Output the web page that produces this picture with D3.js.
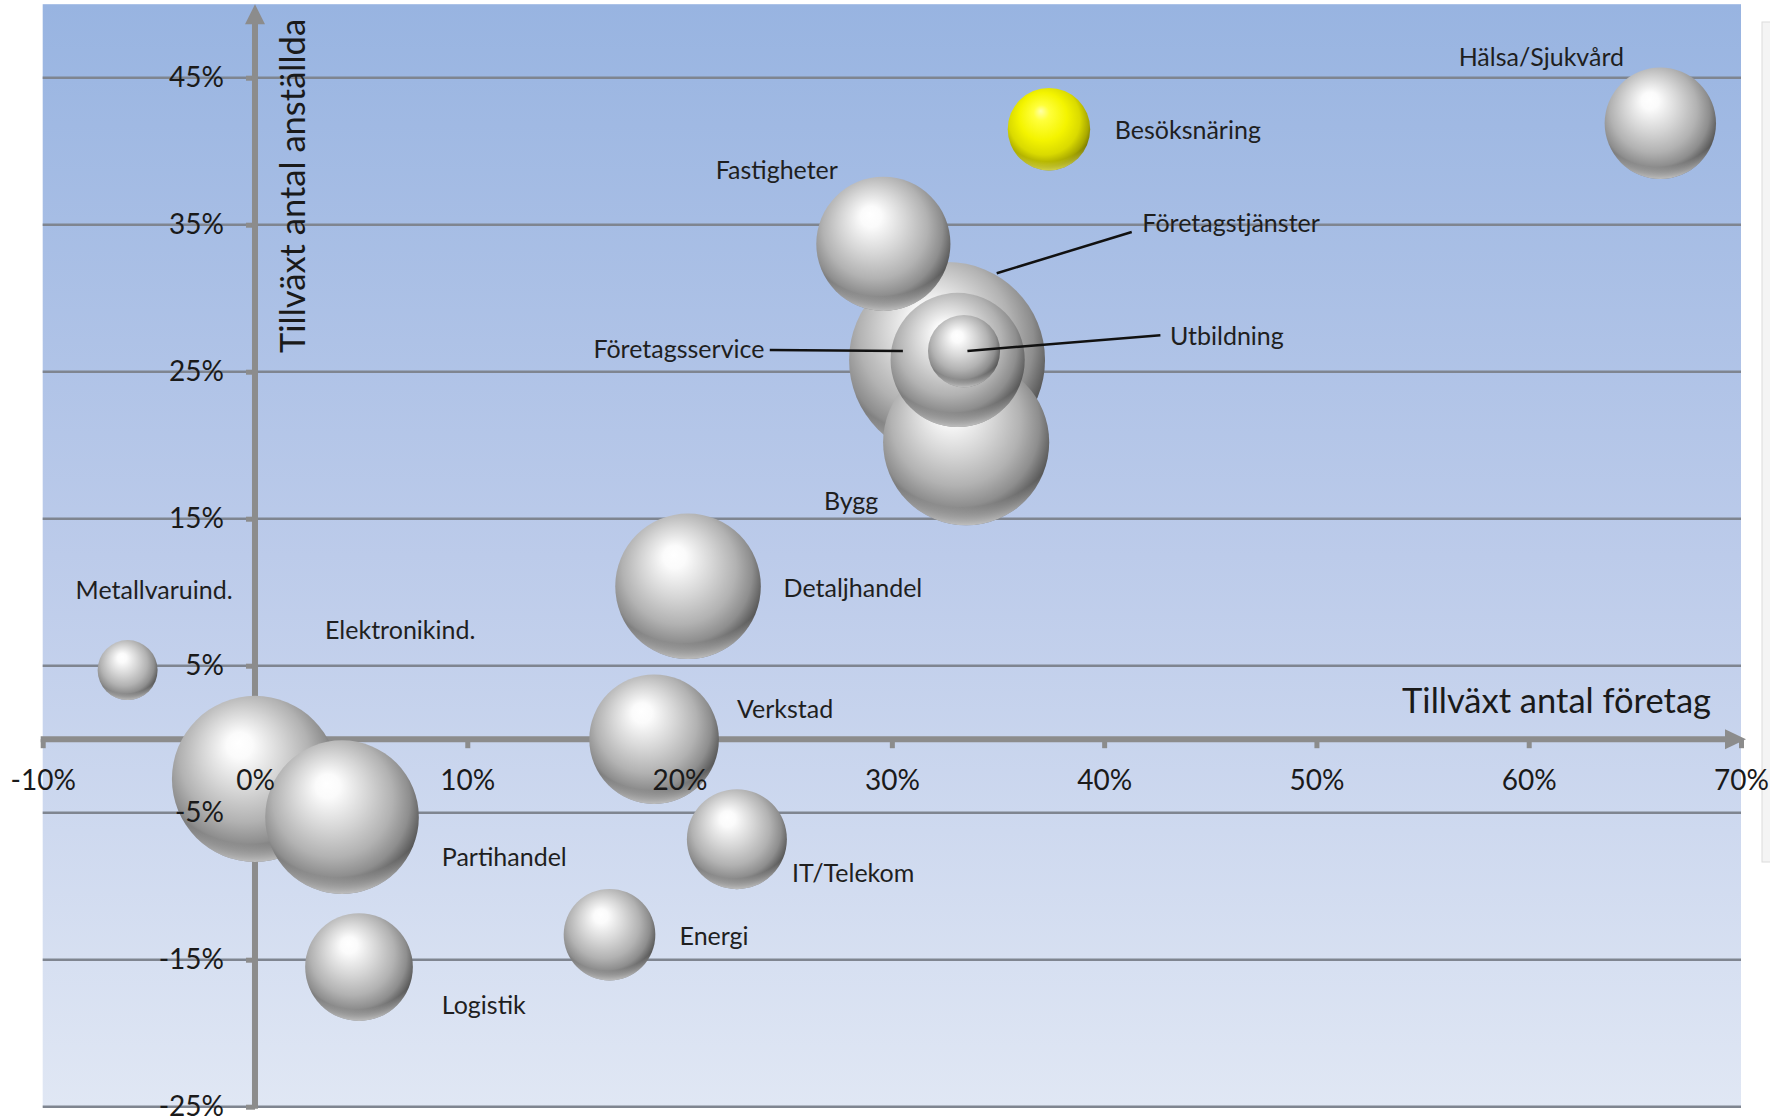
<!DOCTYPE html>
<html>
<head>
<meta charset="utf-8">
<script src="https://cdn.jsdelivr.net/npm/d3@7"></script>
<style>
  html, body { margin: 0; padding: 0; background: #ffffff; }
  svg { display: block; }
  text { font-family: Lato, "Open Sans", sans-serif; }
</style>
</head>
<body>
<svg id="chart" width="1770" height="1118"></svg>
<script>
// ---------- data ----------
const sectors = ["Hälsa/Sjukvård", "Besöksnäring", "Fastigheter", "Företagstjänster", "Företagsservice",
  "Utbildning", "Bygg", "Detaljhandel", "Verkstad", "Metallvaruind.", "Elektronikind.",
  "Partihandel", "IT/Telekom", "Energi", "Logistik"];
// growth in number of companies (%)
const growthCompanies = [66.2, 37.4, 29.6, 32.6, 33.1, 33.4, 33.5, 20.4, 18.8, -6.0, 0.0, 4.1, 22.7, 16.7, 4.9];
// growth in number of employees (%)
const growthEmployees = [41.9, 41.5, 33.7, 25.8, 25.8, 26.4, 20.2, 10.4, 0.0, 4.7, -2.7, -5.3, -6.8, -13.3, -15.5];
// bubble size (relative)
const bubbleSize = [31, 17, 45, 96, 45, 13, 69, 53, 42, 9, 69, 59, 25, 21, 29];
const highlighted = ["Besöksnäring"];

// data-label anchors (in axis units)
const labelX = [56.7, 40.5, 21.7, 41.8, 24.0, 43.1, 26.8, 24.9, 22.7, -8.45, 3.3, 8.8, 25.3, 20.0, 8.8];
const labelY = [46.4, 41.4, 38.7, 35.1, 26.5, 27.4, 16.2, 10.3, 2.05, 10.1, 7.4, -8.0, -9.1, -13.4, -18.1];
const labelAnchor = ["start","start","start","start","end","start","start","start","start","start","start","start","start","start","start"];
// leader lines [sector, x1, y1, x2, y2] in axis units
const leaders = [
  ["Företagstjänster", 34.94, 31.7, 41.3, 34.5],
  ["Utbildning", 33.56, 26.41, 42.65, 27.48],
  ["Företagsservice", 24.25, 26.48, 30.52, 26.41]
];

const xTicks = [-10, 0, 10, 20, 30, 40, 50, 60, 70];
const yTicks = [-25, -15, -5, 5, 15, 25, 35, 45];
const xTitle = "Tillväxt antal företag";
const yTitle = "Tillväxt antal anställda";

// ---------- scales ----------
const svg = d3.select("#chart");
const x = d3.scaleLinear().domain([-10, 70]).range([42.7, 1741]);
const y = d3.scaleLinear().domain([-25, 50]).range([1106.7, 4.2]);
const r = d3.scaleSqrt().domain([0, 100]).range([0, 100]);

const defs = svg.append("defs");
const bg = defs.append("linearGradient").attr("id", "bg").attr("x1", 0).attr("y1", 0).attr("x2", 0).attr("y2", 1);
bg.append("stop").attr("offset", "0%").attr("stop-color", "#98b4e1");
bg.append("stop").attr("offset", "50%").attr("stop-color", "#bccbea");
bg.append("stop").attr("offset", "100%").attr("stop-color", "#e0e7f4");

function sphereGrad(id, stops) {
  const g = defs.append("radialGradient").attr("id", id)
    .attr("cx", "46%").attr("cy", "42%").attr("r", "60%")
    .attr("fx", "40%").attr("fy", "28%");
  stops.forEach(s => g.append("stop").attr("offset", s[0]).attr("stop-color", s[1]));
}
sphereGrad("silver", [["0%", "#ffffff"], ["13%", "#fbfbfb"], ["40%", "#d6d6d6"], ["65%", "#b2b2b2"], ["82%", "#8e8e8e"], ["100%", "#454545"]]);
sphereGrad("yellow", [["0%", "#ffffa8"], ["16%", "#ffff3a"], ["48%", "#f4f400"], ["72%", "#dada00"], ["88%", "#a8a800"], ["100%", "#666600"]]);
// bottom rim reflection
function rimGrad(id, color, op) {
  const g = defs.append("radialGradient").attr("id", id)
    .attr("cx", "48%").attr("cy", "22%").attr("r", "80%");
  g.append("stop").attr("offset", "0%").attr("stop-color", color).attr("stop-opacity", 0);
  g.append("stop").attr("offset", "84%").attr("stop-color", color).attr("stop-opacity", 0);
  g.append("stop").attr("offset", "100%").attr("stop-color", color).attr("stop-opacity", op);
}
rimGrad("rimSilver", "#ffffff", 0.75);
rimGrad("rimYellow", "#ffff66", 0.8);

// ---------- background ----------
svg.append("rect")
  .attr("x", x(-10)).attr("y", y(50))
  .attr("width", x(70) - x(-10)).attr("height", y(-25) - y(50))
  .attr("fill", "url(#bg)");
svg.append("rect").attr("x", 1762).attr("y", 22).attr("width", 10).attr("height", 840)
  .attr("fill", "#f4f4f4").attr("stroke", "#dcdcdc").attr("stroke-width", 1);

// gridlines
svg.append("g").selectAll("line").data(yTicks).join("line")
  .attr("x1", x(-10)).attr("x2", x(70))
  .attr("y1", d => y(d)).attr("y2", d => y(d))
  .attr("stroke", "#7f8590").attr("stroke-width", 2.5);

// axes (lines + ticks)
const axisColor = "#8c8c8c";
const yAxisLines = svg.append("g").attr("transform", `translate(${x(0)},0)`)
  .call(d3.axisLeft(y).tickValues(yTicks).tickSize(9).tickSizeOuter(0).tickFormat(""));
yAxisLines.select(".domain").remove();
yAxisLines.selectAll(".tick line").attr("stroke", axisColor).attr("stroke-width", 5);
const xAxisLines = svg.append("g").attr("transform", `translate(0,${y(0)})`)
  .call(d3.axisBottom(x).tickValues(xTicks).tickSize(9).tickSizeOuter(0).tickFormat(""));
xAxisLines.select(".domain").remove();
xAxisLines.selectAll(".tick line").attr("stroke", axisColor).attr("stroke-width", 5);

svg.append("line").attr("x1", x(0)).attr("x2", x(0)).attr("y1", y(-25) + 2).attr("y2", y(50) + 14)
  .attr("stroke", axisColor).attr("stroke-width", 6);
svg.append("path")
  .attr("d", `M${x(0)},${y(50)} L${x(0) - 10},${y(50) + 20} L${x(0) + 10},${y(50) + 20} Z`)
  .attr("fill", axisColor);
svg.append("line").attr("x1", x(-10) - 2).attr("x2", x(70) - 14).attr("y1", y(0)).attr("y2", y(0))
  .attr("stroke", axisColor).attr("stroke-width", 6);
svg.append("path")
  .attr("d", `M${x(70) + 5},${y(0)} L${x(70) - 16},${y(0) - 10} L${x(70) - 16},${y(0) + 10} Z`)
  .attr("fill", axisColor);

// ---------- bubbles ----------
const data = sectors.map((s, i) => ({
  name: s, gx: growthCompanies[i], gy: growthEmployees[i], size: bubbleSize[i],
  lx: labelX[i], ly: labelY[i], anchor: labelAnchor[i]
}));
const order = data.slice().sort((a, b) => b.size - a.size);
const bub = svg.append("g").selectAll("g").data(order).join("g")
  .attr("transform", d => `translate(${x(d.gx)},${y(d.gy)})`);
bub.append("circle").attr("r", d => r(d.size))
  .attr("fill", d => highlighted.includes(d.name) ? "url(#yellow)" : "url(#silver)");
bub.append("circle").attr("r", d => r(d.size))
  .attr("fill", d => highlighted.includes(d.name) ? "url(#rimYellow)" : "url(#rimSilver)");

// ---------- tick labels ----------
const yLab = svg.append("g").attr("transform", `translate(${x(0)},0)`)
  .call(d3.axisLeft(y).tickValues(yTicks).tickSize(9).tickPadding(22).tickFormat(d => d + "%"));
yLab.select(".domain").remove();
yLab.selectAll(".tick line").remove();
yLab.selectAll("text").attr("font-family", "Lato, sans-serif").attr("font-size", 28).attr("fill", "#1a1a1a");

const xLab = svg.append("g").attr("transform", `translate(0,${y(0)})`)
  .call(d3.axisBottom(x).tickValues(xTicks).tickSize(9).tickPadding(22).tickFormat(d => d + "%"));
xLab.select(".domain").remove();
xLab.selectAll(".tick line").remove();
xLab.selectAll("text").attr("font-family", "Lato, sans-serif").attr("font-size", 28).attr("fill", "#1a1a1a");

// axis titles
svg.append("text").attr("x", 1711).attr("y", 713).attr("text-anchor", "end")
  .attr("font-size", 34.5).attr("fill", "#1a1a1a").text(xTitle);
svg.append("text").attr("transform", `translate(305,353) rotate(-90)`)
  .attr("font-size", 34.5).attr("fill", "#1a1a1a").text(yTitle);

// leader lines
svg.append("g").selectAll("line").data(leaders).join("line")
  .attr("x1", d => x(d[1])).attr("y1", d => y(d[2]))
  .attr("x2", d => x(d[3])).attr("y2", d => y(d[4]))
  .attr("stroke", "#111111").attr("stroke-width", 2.5);

// data labels
svg.append("g").selectAll("text").data(data).join("text")
  .attr("x", d => x(d.lx)).attr("y", d => y(d.ly)).attr("dy", "0.35em")
  .attr("text-anchor", d => d.anchor)
  .attr("font-size", 25).attr("fill", "#1f1f1f")
  .text(d => d.name);
</script>
</body>
</html>
